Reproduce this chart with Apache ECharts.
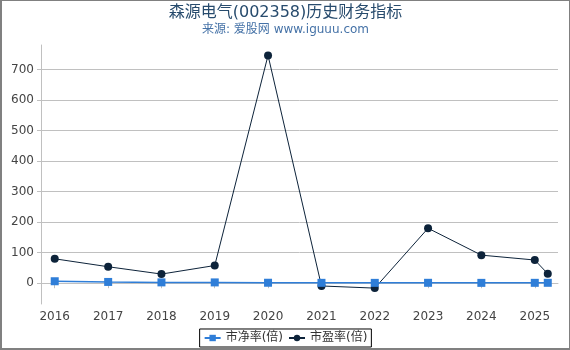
<!DOCTYPE html>
<html>
<head>
<meta charset="utf-8">
<script src="https://cdn.jsdelivr.net/npm/echarts@6/dist/echarts.min.js"></script>
<style>
html,body{margin:0;padding:0;background:#fff;}
#c{width:570px;height:350px;box-sizing:border-box;border:1px solid #808080;border-left-width:2px;border-bottom-width:2px;}
</style>
</head>
<body>
<div id="c"></div>
<script>
var titleText = '森源电气(002358)历史财务指标';
var subtitleText = '来源: 爱股网 www.iguuu.com';
var dates = ['2016-01-01','2017-01-01','2018-01-01','2019-01-01','2020-01-01','2021-01-01','2022-01-01','2023-01-01','2024-01-01','2025-01-01','2025-03-31'];
var pbValues = [6.5, 4.2, 2.8, 2.7, 1.6, 1.3, 1.2, 1.4, 1.2, 1.3, 1.4];
var peValues = [80, 54, 30, 58, 746, -9, -16, 180, 92, 76, 31];
var yTicks = [0, 100, 200, 300, 400, 500, 600, 700];
var xMin = '2015-09-29';
var xMax = '2025-06-09';

function pairs(vals){ return dates.map(function(d,i){ return [d, vals[i]]; }); }

var FONT = 'DejaVu Sans, Noto Sans CJK SC';
var chart = echarts.init(document.getElementById('c'));
chart.setOption({
  animation:false,
  backgroundColor:'#fff',
  title:{
    text:titleText, subtext:subtitleText, left:'center', top:-1, itemGap:3,
    textStyle:{fontFamily:FONT, fontSize:16, fontWeight:'normal', color:'#274b6d'},
    subtextStyle:{fontFamily:FONT, fontSize:12, color:'#4572a7'}
  },
  grid:{left:39, right:11, top:44, bottom:44},
  legend:{
    bottom:1, left:'center', itemWidth:16, itemHeight:8, itemGap:5,
    padding:[3,4,3,4], borderColor:'#000', borderWidth:1,
    textStyle:{fontFamily:FONT, fontSize:12, color:'#333'},
    data:['市净率(倍)','市盈率(倍)']
  },
  xAxis:{
    type:'time', min:xMin, max:xMax,
    splitNumber:10,
    axisLine:{lineStyle:{color:'#c0c0c0'}},
    axisTick:{show:true, length:5, lineStyle:{color:'#c0c0c0'}},
    axisLabel:{fontFamily:'DejaVu Sans', fontSize:12, color:'#444', margin:7, formatter:'{yyyy}', hideOverlap:false},
    splitLine:{show:false}
  },
  yAxis:{
    type:'value', min:-68, max:780,
    axisLine:{show:true, lineStyle:{color:'#c0c0c0'}},
    axisTick:{show:true, length:4, customValues:yTicks, lineStyle:{color:'#c0c0c0'}},
    axisLabel:{fontFamily:'DejaVu Sans', fontSize:12, color:'#444', margin:7, customValues:yTicks},
    splitLine:{show:true, lineStyle:{color:'#c0c0c0'}}
  },
  series:[
    {
      name:'市净率(倍)', type:'line', data:pairs(pbValues),
      symbol:'rect', symbolSize:8,
      itemStyle:{color:'#2f7ed8'},
      lineStyle:{color:'#2f7ed8', width:1.5},
      z:3
    },
    {
      name:'市盈率(倍)', type:'line', data:pairs(peValues),
      symbol:'circle', symbolSize:8,
      itemStyle:{color:'#0d233a'},
      lineStyle:{color:'#0d233a', width:1},
      z:2
    }
  ]
});
</script>
</body>
</html>
